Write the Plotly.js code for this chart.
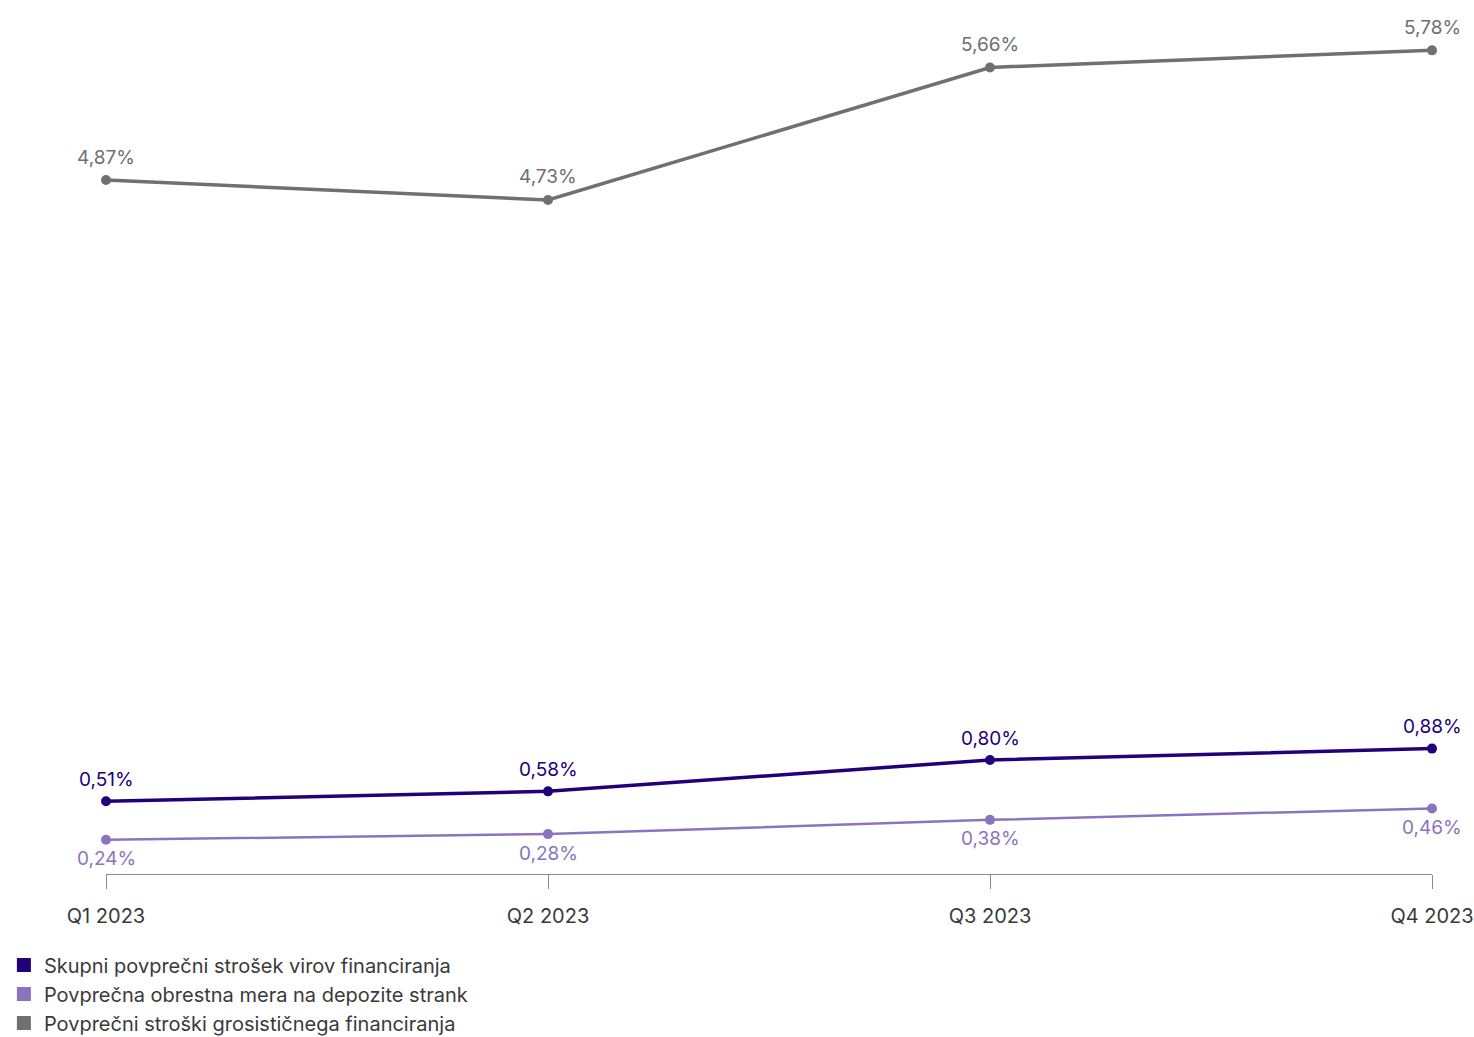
<!DOCTYPE html>
<html>
<head>
<meta charset="utf-8">
<script src="https://cdn.plot.ly/plotly-3.0.1.min.js"></script>
<style>html,body{margin:0;padding:0;background:#fff;}#chart{width:1474px;height:1037px;}</style>
</head>
<body>
<div id="chart"></div>
<script>
const categories = ["Q1 2023", "Q2 2023", "Q3 2023", "Q4 2023"];
const skupni = [0.51, 0.58, 0.80, 0.88];
const depoziti = [0.24, 0.28, 0.38, 0.46];
const grosisticno = [4.87, 4.73, 5.66, 5.78];
const names = [
  "Skupni povprečni strošek virov financiranja",
  "Povprečna obrestna mera na depozite strank",
  "Povprečni stroški grosističnega financiranja"
];
const colors = ["#22007a", "#8b74bd", "#6e7073"];

const fmt = v => v.toFixed(2).replace(".", ",") + "%";
const FONT = "Inter, 'Noto Sans', sans-serif";

function lineTrace(vals, color, width) {
  return {
    x: categories, y: vals, type: "scatter", mode: "lines+markers",
    line: {color: color, width: width},
    marker: {color: color, size: 10},
    cliponaxis: false, showlegend: false, hoverinfo: "skip"
  };
}
function legendTrace(name, color) {
  return {
    x: [null], y: [null], type: "scatter", mode: "markers", name: name,
    marker: {color: color, size: 14, symbol: "square"}, showlegend: true
  };
}
function labels(vals, color, shift) {
  return vals.map((v, i) => ({
    x: categories[i], y: v, xref: "x", yref: "y", text: fmt(v),
    showarrow: false, yshift: shift,
    font: {family: FONT, size: 19, color: color}
  }));
}

const data = [
  lineTrace(grosisticno, colors[2], 3.5),
  lineTrace(depoziti, colors[1], 2.5),
  lineTrace(skupni, colors[0], 3.5),
  legendTrace(names[0], colors[0]),
  legendTrace(names[1], colors[1]),
  legendTrace(names[2], colors[2])
];

const layout = {
  width: 1474, height: 1037,
  margin: {l: 106, r: 42, t: 19, b: 163, autoexpand: false},
  paper_bgcolor: "#fff", plot_bgcolor: "#fff",
  font: {family: FONT, color: "#3a3a3a"},
  xaxis: {
    type: "category", range: [0, 3], showgrid: false, zeroline: false,
    showline: true, linecolor: "#8a8a8a", linewidth: 1,
    ticks: "outside", ticklen: 14, tickcolor: "#8a8a8a", tickwidth: 1,
    ticklabelstandoff: 10,
    tickfont: {family: FONT, size: 20, color: "#3a3a3a"}, fixedrange: true
  },
  yaxis: {range: [0, 6], visible: false, showgrid: false, zeroline: false, fixedrange: true},
  annotations: [].concat(
    labels(grosisticno, colors[2], 23),
    labels(skupni, colors[0], 22),
    labels(depoziti, colors[1], -19)
  ),
  showlegend: true,
  legend: {
    orientation: "v", x: -0.077, xanchor: "left", y: -0.0835, yanchor: "top",
    font: {family: FONT, size: 20, color: "#3a3a3a"},
    tracegroupgap: 0, itemwidth: 30, bgcolor: "rgba(0,0,0,0)"
  }
};

Plotly.newPlot("chart", data, layout, {displayModeBar: false, staticPlot: true});
</script>
</body>
</html>
